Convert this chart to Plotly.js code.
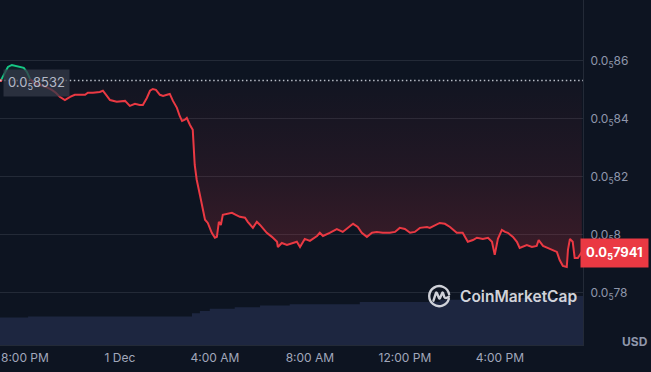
<!DOCTYPE html>
<html><head><meta charset="utf-8">
<script src="https://cdn.plot.ly/plotly-3.0.1.min.js"></script>
<style>html,body{margin:0;padding:0;background:#0d1421;}#chart{width:651px;height:372px;}</style>
</head><body><div id="chart"></div>
<script>
// price in units of 1e-5 USD (0.0₅8532 = 0.000008532)
const openPrice = 0.8532;
const lastPrice = 0.7941;
const times = [
"2023-11-30 18:59","2023-11-30 19:07","2023-11-30 19:17","2023-11-30 19:27","2023-11-30 19:37","2023-11-30 19:47","2023-11-30 19:57","2023-11-30 20:05","2023-11-30 20:13",
"2023-11-30 20:23","2023-11-30 20:38","2023-11-30 20:53","2023-11-30 21:08","2023-11-30 21:18","2023-11-30 21:28","2023-11-30 21:41","2023-11-30 21:54","2023-11-30 22:06","2023-11-30 22:19","2023-11-30 22:32","2023-11-30 22:39","2023-11-30 22:52","2023-11-30 23:09","2023-11-30 23:17","2023-11-30 23:27","2023-11-30 23:35","2023-11-30 23:52",
"2023-12-01 00:13","2023-12-01 00:25","2023-12-01 00:38","2023-12-01 00:50","2023-12-01 00:58","2023-12-01 01:08","2023-12-01 01:16","2023-12-01 01:23","2023-12-01 01:31","2023-12-01 01:41","2023-12-01 01:49","2023-12-01 01:59","2023-12-01 02:06","2023-12-01 02:14","2023-12-01 02:24","2023-12-01 02:31","2023-12-01 02:37","2023-12-01 02:44","2023-12-01 02:49","2023-12-01 02:57","2023-12-01 03:04","2023-12-01 03:09","2023-12-01 03:14","2023-12-01 03:22","2023-12-01 03:30","2023-12-01 03:35","2023-12-01 03:42","2023-12-01 03:52",
"2023-12-01 04:00","2023-12-01 04:05","2023-12-01 04:10","2023-12-01 04:15","2023-12-01 04:20","2023-12-01 04:30","2023-12-01 04:43","2023-12-01 04:53","2023-12-01 05:03","2023-12-01 05:16","2023-12-01 05:23","2023-12-01 05:36","2023-12-01 05:46","2023-12-01 05:54","2023-12-01 06:01","2023-12-01 06:11","2023-12-01 06:24","2023-12-01 06:37","2023-12-01 06:39","2023-12-01 06:49","2023-12-01 07:02","2023-12-01 07:17","2023-12-01 07:27","2023-12-01 07:35","2023-12-01 07:47",
"2023-12-01 08:00","2023-12-01 08:18","2023-12-01 08:25","2023-12-01 08:33","2023-12-01 08:50","2023-12-01 09:08","2023-12-01 09:23","2023-12-01 09:36","2023-12-01 09:49","2023-12-01 10:01","2023-12-01 10:11","2023-12-01 10:24","2023-12-01 10:37","2023-12-01 10:49","2023-12-01 11:04","2023-12-01 11:22","2023-12-01 11:35","2023-12-01 11:47",
"2023-12-01 12:00","2023-12-01 12:13","2023-12-01 12:25","2023-12-01 12:38","2023-12-01 12:56","2023-12-01 13:03","2023-12-01 13:16","2023-12-01 13:28","2023-12-01 13:41","2023-12-01 13:54","2023-12-01 14:11","2023-12-01 14:26","2023-12-01 14:39","2023-12-01 14:52","2023-12-01 15:02","2023-12-01 15:17","2023-12-01 15:30","2023-12-01 15:40","2023-12-01 15:47","2023-12-01 15:55",
"2023-12-01 16:05","2023-12-01 16:13","2023-12-01 16:20","2023-12-01 16:33","2023-12-01 16:43","2023-12-01 16:50","2023-12-01 17:08","2023-12-01 17:21","2023-12-01 17:33","2023-12-01 17:38","2023-12-01 17:49","2023-12-01 18:01","2023-12-01 18:14","2023-12-01 18:24","2023-12-01 18:31","2023-12-01 18:39","2023-12-01 18:49","2023-12-01 18:52","2023-12-01 18:57","2023-12-01 19:04","2023-12-01 19:09","2023-12-01 19:17","2023-12-01 19:27"
];
const prices = [
0.8532,0.8555,0.8579,0.8586,0.8583,0.8579,0.8576,0.8562,0.8538,
0.8524,0.8517,0.8510,0.8500,0.8490,0.8476,0.8465,0.8476,0.8483,0.8483,0.8483,0.8490,0.8490,0.8493,0.8497,0.8479,0.8465,0.8459,
0.8462,0.8445,0.8452,0.8448,0.8448,0.8472,0.8497,0.8503,0.8500,0.8483,0.8479,0.8483,0.8486,0.8462,0.8438,0.8410,0.8393,0.8397,0.8403,0.8379,0.8362,0.8241,0.8190,0.8138,0.8086,0.8052,0.8041,0.8007,
0.7990,0.7993,0.8045,0.8034,0.8069,0.8072,0.8076,0.8069,0.8062,0.8059,0.8045,0.8024,0.8045,0.8034,0.8024,0.8007,0.7993,0.7976,0.7958,0.7972,0.7965,0.7972,0.7976,0.7958,0.7986,
0.7979,0.7996,0.8007,0.7996,0.8007,0.8020,0.8010,0.8024,0.8038,0.8027,0.8007,0.7993,0.8007,0.8010,0.8007,0.8007,0.8010,0.8024,
0.8020,0.8007,0.8010,0.8024,0.8027,0.8024,0.8034,0.8041,0.8038,0.8027,0.8007,0.8007,0.7976,0.7982,0.7990,0.7986,0.7990,0.7976,0.7931,0.7986,
0.8017,0.8010,0.8007,0.7993,0.7976,0.7955,0.7965,0.7958,0.7962,0.7982,0.7962,0.7955,0.7948,0.7941,0.7913,0.7893,0.7889,0.7948,0.7986,0.7976,0.7920,0.7920,0.7941
];
// 24h volume (relative units), step values starting at each time
const volTimes = ["2023-11-30 18:57","2023-11-30 20:08","2023-12-01 03:02","2023-12-01 03:22","2023-12-01 03:47","2023-12-01 04:50","2023-12-01 05:54","2023-12-01 07:09","2023-12-01 10:06","2023-12-01 13:28","2023-12-01 16:50","2023-12-01 19:09","2023-12-01 19:30"];
const volumes = [6.4,6.6,7.4,7.9,8.4,8.8,9.2,9.5,10.0,10.5,10.9,11.4,11.4];
const tickTimes = ["2023-11-30 20:00","2023-12-01 00:00","2023-12-01 04:00","2023-12-01 08:00","2023-12-01 12:00","2023-12-01 16:00"];
const tickLabels = ["8:00 PM","1 Dec","4:00 AM","8:00 AM","12:00 PM","4:00 PM"];
const yTicks = [0.78,0.80,0.82,0.84,0.86];
const yTickLabels = ["0.0<sub>5</sub>78","0.0<sub>5</sub>8","0.0<sub>5</sub>82","0.0<sub>5</sub>84","0.0<sub>5</sub>86"];

const splitIdx = 8; // last point above the open price
const gT = times.slice(0, splitIdx+1), gP = prices.slice(0, splitIdx+1);
const rT = times.slice(splitIdx), rP = prices.slice(splitIdx);

const RED = '#ea3943', GREEN = '#16c784';
const traces = [
  {x: volTimes, y: volumes, yaxis: 'y2', type: 'scatter', mode: 'lines', line: {shape: 'hv', width: 0, color: 'rgb(30,39,66)'}, fill: 'tozeroy', fillcolor: 'rgb(29,38,64)', hoverinfo: 'skip'},
  {x: [gT[0], gT[gT.length-1]], y: [openPrice, openPrice], mode: 'lines', line: {width: 0}, hoverinfo: 'skip'},
  {x: gT, y: gP, mode: 'lines', line: {color: GREEN, width: 2}, fill: 'tonexty', fillcolor: 'rgba(22,199,132,0.08)'},
  {x: [rT[0], rT[rT.length-1]], y: [openPrice, openPrice], mode: 'lines', line: {width: 0}, hoverinfo: 'skip'},
  {x: rT, y: rP, mode: 'lines', line: {color: RED, width: 2}, fill: 'tonexty',
   fillgradient: {type: 'vertical', start: 0.789, stop: openPrice, colorscale: [[0, 'rgba(234,57,67,0.22)'], [0.5, 'rgba(234,57,67,0.10)'], [1, 'rgba(234,57,67,0.02)']]}},
  {x: [times[0]], y: [openPrice], mode: 'markers', marker: {color: RED, size: 3}}
];

const logo = "<svg xmlns='http://www.w3.org/2000/svg' viewBox='0 0 24 24'>" +
  "<path d='M21 14.2 A9.6 9.6 0 1 1 21.2 10' fill='none' stroke='#e4e6ec' stroke-width='2.3' stroke-linecap='round'/>" +
  "<path d='M6.2 16 L8.6 8.6 Q9 7.8 9.5 8.7 L11.6 13.6 Q12 14.4 12.4 13.6 L14.6 8.6 Q15 7.8 15.4 8.7 L16.6 12.4 Q17.6 14.6 21 12.2' fill='none' stroke='#e4e6ec' stroke-width='2.3' stroke-linecap='round' stroke-linejoin='round'/></svg>";

const layout = {
  width: 651, height: 372,
  margin: {l: 0, r: 68, t: 0, b: 27},
  paper_bgcolor: '#0d1421', plot_bgcolor: '#0d1421',
  showlegend: false,
  font: {family: 'Inter, Roboto, sans-serif', color: '#a1a7bb', size: 12},
  xaxis: {type: 'date', range: ['2023-11-30 18:57', '2023-12-01 19:30'], tickvals: tickTimes, ticktext: tickLabels,
          showgrid: false, zeroline: false, showline: true, linecolor: '#232a37', linewidth: 1, ticks: '', tickfont: {size: 12, color: '#a1a7bb'}, ticklabelstandoff: 2},
  yaxis: {range: [0.7620, 0.8810], side: 'right', tickvals: yTicks, ticktext: yTickLabels, showgrid: true, gridcolor: '#232a37', gridwidth: 1,
          zeroline: false, showline: true, linecolor: '#232a37', ticks: '', tickfont: {size: 12, color: '#8f97ab'}, ticklabelstandoff: 4},
  yaxis2: {overlaying: 'y', range: [0, 80.2], visible: false},
  shapes: [
    {type: 'line', xref: 'paper', x0: 0, x1: 1, yref: 'y', y0: openPrice, y1: openPrice, line: {color: 'rgba(215,218,228,0.85)', width: 1.5, dash: '1.5px,2.6px'}}
  ],
  annotations: [
    {xref: 'paper', x: 0, xanchor: 'left', xshift: 3, yref: 'y', y: openPrice, yanchor: 'middle', yshift: -2,
     text: '0.0<sub>5</sub>8532', showarrow: false, bgcolor: 'rgba(52,57,72,0.75)', borderpad: 4, font: {size: 13, color: '#b4b9c8', family: 'Inter, sans-serif'}},
    {xref: 'paper', x: 1, xanchor: 'left', xshift: -3, yref: 'y', y: lastPrice, yanchor: 'middle', yshift: -1,
     text: '<b>0.0<sub>5</sub>7941</b>', showarrow: false, bgcolor: RED, borderpad: 5, font: {size: 13, color: '#ffffff', family: 'Inter, sans-serif'}},
    {xref: 'paper', x: 1, xanchor: 'right', xshift: 67, yref: 'paper', y: 0, yanchor: 'middle', yshift: 4,
     text: '<b>USD</b>', showarrow: false, font: {size: 12, color: '#8f97ab', family: 'Inter, sans-serif'}},
    {xref: 'paper', x: 458/583, xanchor: 'left', yref: 'paper', y: 1 - 296/345, yanchor: 'middle',
     text: 'CoinMarketCap', showarrow: false, font: {size: 15.5, color: 'rgba(235,237,242,0.9)', family: 'Inter, sans-serif', weight: 600}}
  ],
  images: [
    {source: 'data:image/svg+xml;charset=utf-8,' + encodeURIComponent(logo), xref: 'paper', yref: 'paper',
     x: 427/583, y: 1 - 284/345, sizex: 25/583, sizey: 25/345, xanchor: 'left', yanchor: 'top', sizing: 'contain', layer: 'above', opacity: 0.9}
  ]
};
Plotly.newPlot('chart', traces, layout, {staticPlot: true, displayModeBar: false});
</script></body></html>
